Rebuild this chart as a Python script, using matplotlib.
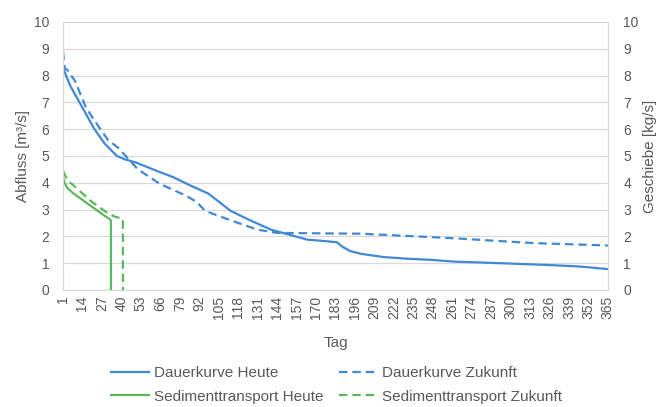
import matplotlib.pyplot as plt

plt.rcParams['font.family'] = ['Liberation Sans', 'DejaVu Sans']

# Dauerkurven Abfluss (Tag, m³/s)
dh_tag = [1, 3, 6, 10, 16, 22, 29, 37, 42, 50, 62, 75, 86, 98, 105, 113, 126, 140, 153, 164,
          175, 184, 188, 193, 200, 215, 230, 248, 262, 293, 326, 345, 365]
dh_wert = [8.3, 8.0, 7.6, 7.2, 6.6, 6.0, 5.45, 5.0, 4.88, 4.75, 4.48, 4.2, 3.9, 3.6, 3.3, 2.95,
           2.6, 2.25, 2.05, 1.88, 1.83, 1.78, 1.6, 1.45, 1.35, 1.23, 1.17, 1.12, 1.06, 1.0, 0.93,
           0.88, 0.78]
dz_tag = [1, 2, 4, 9, 16, 21, 26, 31, 38, 51, 66, 82, 90, 96, 113, 131, 144, 160, 200, 230,
          262, 315, 365]
dz_wert = [8.9, 8.3, 8.2, 7.8, 6.85, 6.4, 6.0, 5.6, 5.3, 4.5, 3.95, 3.55, 3.3, 2.95, 2.6,
           2.25, 2.13, 2.12, 2.1, 2.02, 1.93, 1.75, 1.66]

# Sedimenttransport (Tag, kg/s)
sh_tag = [1, 2, 4, 8, 13, 18, 23, 28, 32, 33, 33]
sh_wert = [4.2, 4.0, 3.8, 3.6, 3.4, 3.2, 3.0, 2.8, 2.65, 2.6, 0]
sz_tag = [1, 3, 6, 10, 15, 20, 25, 30, 35, 38, 41, 41]
sz_wert = [4.45, 4.2, 4.0, 3.8, 3.55, 3.3, 3.1, 2.9, 2.75, 2.7, 2.65, 0]

x_ticks = list(range(1, 366, 13))
y_ticks = list(range(0, 11))

blau = '#4189d6'
gruen = '#5cb85c'
grau = '#595959'
gitter = '#d9d9d9'

fig = plt.figure(figsize=(6.6, 4.07), dpi=100)
ax = fig.add_axes([0.0955, 0.2875, 0.8255, 0.6585])
ax2 = ax.twinx()

l1, = ax.plot(dh_tag, dh_wert, color=blau, lw=1.6, label='Dauerkurve Heute')
l2, = ax.plot(dz_tag, dz_wert, color=blau, lw=1.6, linestyle=(0, (3.8, 2.2)),
              label='Dauerkurve Zukunft')
l3, = ax2.plot(sh_tag, sh_wert, color=gruen, lw=1.6, label='Sedimenttransport Heute')
l4, = ax2.plot(sz_tag, sz_wert, color=gruen, lw=1.6, linestyle=(0, (3.8, 2.2)),
               label='Sedimenttransport Zukunft')

for a in (ax, ax2):
    a.set_xlim(1, 365)
    a.set_ylim(0, 10)
    a.set_yticks(y_ticks)
    a.tick_params(length=0, labelsize=10, labelcolor=grau)
    for s in a.spines.values():
        s.set_color(gitter)
    a.spines['top'].set_visible(False)

ax.set_xticks(x_ticks)
ax.set_xticklabels([str(t) for t in x_ticks], rotation=90)
ax.tick_params(axis='x', pad=4)
ax.tick_params(axis='y', pad=10)
ax2.tick_params(axis='y', pad=11)
ax.grid(axis='y', color=gitter, lw=0.9)
ax.set_axisbelow(True)

ax.set_xlabel('Tag', fontsize=11, color=grau, labelpad=12)
ax.set_ylabel('Abfluss [m³/s]', fontsize=11, color=grau, labelpad=3)
ax2.set_ylabel('Geschiebe [kg/s]', fontsize=11, color=grau, labelpad=3)

fig.legend(handles=[l1, l3, l2, l4], ncol=2, loc='center', bbox_to_anchor=(0.51, 0.054),
           frameon=False, fontsize=11, labelcolor=grau, handlelength=2.5,
           columnspacing=1.0, handletextpad=0.33, labelspacing=0.6)

fig.savefig('out.png', dpi=100)
